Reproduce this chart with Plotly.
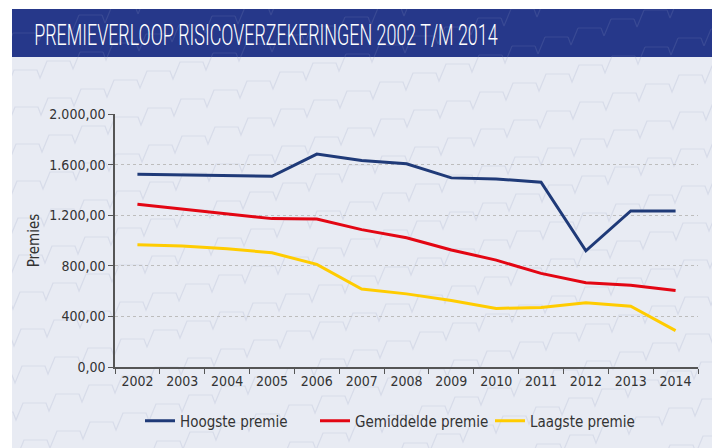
import plotly.graph_objects as go

years = ["2002", "2003", "2004", "2005", "2006", "2007", "2008", "2009", "2010", "2011", "2012", "2013", "2014"]
hoogste = [1524, 1519, 1516, 1508, 1683, 1632, 1606, 1495, 1487, 1461, 919, 1234, 1234]
gemiddelde = [1287, 1250, 1212, 1173, 1170, 1086, 1022, 925, 845, 740, 666, 647, 605]
laagste = [967, 956, 935, 903, 811, 616, 578, 526, 463, 471, 507, 481, 288]

W, H = 712, 448
L, R, T, B = 115, 14, 114, 81
PW, PH = W - L - R, H - T - B

def px(x):
    return (x - L) / PW

def py(y):
    return (H - B - y) / PH

BG = "#E8EBF3"
BANNER = "#26388A"
FONT = "DejaVu Sans Condensed, DejaVu Sans, sans-serif"
TITLE_FONT = "Roboto, DejaVu Sans, sans-serif"

fig = go.Figure()
fig.add_trace(go.Scatter(x=years, y=hoogste, mode="lines", name="Hoogste premie",
                         line=dict(color="#1F3A78", width=3)))
fig.add_trace(go.Scatter(x=years, y=gemiddelde, mode="lines", name="Gemiddelde premie",
                         line=dict(color="#E30613", width=3)))
fig.add_trace(go.Scatter(x=years, y=laagste, mode="lines", name="Laagste premie",
                         line=dict(color="#FFCC00", width=3)))

# decorative background staircase lines (pixel space)
pattern = []
y0 = -60
while y0 < H + 260:
    pts = []
    x, y = -40.0 - (y0 % 19), float(y0)
    pts.append((x, y))
    while x < W + 40:
        pts.append((x + 23, y))
        pts.append((x + 26, y + 8))
        pts.append((x + 33, y - 9))
        x, y = x + 33, y - 9
    pattern.append(pts)
    y0 += 37

def clipped_path(pts, ymin, ymax):
    parts = []
    for (ax, ay), (bx, by) in zip(pts[:-1], pts[1:]):
        dy = by - ay
        if dy == 0:
            if ymin <= ay <= ymax:
                lo, hi = 0.0, 1.0
            else:
                continue
        else:
            t1, t2 = (ymin - ay) / dy, (ymax - ay) / dy
            lo, hi = max(0.0, min(t1, t2)), min(1.0, max(t1, t2))
            if lo >= hi:
                continue
        p = (ax + lo * (bx - ax), ay + lo * dy)
        q = (ax + hi * (bx - ax), ay + hi * dy)
        parts.append(f"M {px(p[0]):.4f},{py(p[1]):.4f} L {px(q[0]):.4f},{py(q[1]):.4f}")
    return " ".join(parts)

shapes = []
shapes.append(dict(type="rect", xref="paper", yref="paper", x0=px(12), x1=px(W + 20), y0=py(9), y1=py(H + 20),
                   fillcolor=BG, line=dict(width=0), layer="below"))
for pts in pattern:
    path = "M " + " L ".join(f"{px(a):.4f},{py(b):.4f}" for a, b in pts)
    shapes.append(dict(type="path", xref="paper", yref="paper", path=path,
                       line=dict(color="rgba(150,160,195,0.2)", width=1.2), layer="below"))
shapes.append(dict(type="rect", xref="paper", yref="paper", x0=px(12), x1=px(W + 20), y0=py(9), y1=py(57),
                   fillcolor=BANNER, line=dict(width=0), layer="below"))
for pts in pattern:
    path = clipped_path(pts, 9, 57)
    if path:
        shapes.append(dict(type="path", xref="paper", yref="paper", path=path,
                           line=dict(color="rgba(255,255,255,0.09)", width=1.2), layer="below"))
shapes.append(dict(type="rect", xref="paper", yref="paper", x0=px(-20), x1=px(12), y0=py(-20), y1=py(H + 20),
                   fillcolor="white", line=dict(width=0), layer="below"))
shapes.append(dict(type="rect", xref="paper", yref="paper", x0=px(-20), x1=px(W + 20), y0=py(-20), y1=py(9),
                   fillcolor="white", line=dict(width=0), layer="below"))

fig.update_layout(
    width=W, height=H,
    margin=dict(l=L, r=R, t=T, b=B, autoexpand=False),
    paper_bgcolor=BG,
    plot_bgcolor="rgba(0,0,0,0)",
    separators=",.",
    shapes=shapes,
    font=dict(family=FONT, size=14, color="#333333"),
    showlegend=True,
    legend=dict(orientation="h", x=px(140), xanchor="left", y=py(421), yanchor="middle",
                font=dict(size=15, color="#333333"), bgcolor="rgba(0,0,0,0)",
                entrywidth=130, entrywidthmode="pixels"),
    annotations=[dict(text="PREMIEVERLOOP RISICOVERZEKERINGEN 2002 T/M 2014", xref="paper", yref="paper",
                      x=px(32), y=py(34), xanchor="left", yanchor="middle", showarrow=False,
                      font=dict(family=TITLE_FONT, size=30, color="white", weight=300))],
    xaxis=dict(type="category", showgrid=False, showline=True, linecolor="#555555", linewidth=1.5,
               ticks="outside", tickson="boundaries", ticklen=5, tickcolor="#555555",
               tickfont=dict(size=14, color="#333333"), range=[-0.5, 12.5]),
    yaxis=dict(range=[0, 2000], tickvals=[0, 400, 800, 1200, 1600, 2000], tickformat=",.2f",
               showline=True, linecolor="#555555", linewidth=1.5, ticks="outside", ticklen=5,
               tickcolor="#555555", showgrid=True, gridcolor="#BDBDBD", griddash="dot", gridwidth=1,
               zeroline=False, tickfont=dict(size=14, color="#333333"),
               title=dict(text="Premies", font=dict(size=15, color="#333333"), standoff=6)),
)

post = """
document.body.style.margin = '0';
document.body.style.background = '#E8EBF3';
var gd = document.getElementById('{plot_id}');
var t = gd.querySelector('.annotation-text');
if (t) {
  var bb = t.getBBox();
  var s = 464 / bb.width;
  var prev = t.getAttribute('transform') || '';
  t.setAttribute('transform', prev + ' translate(' + (bb.x * (1 - s)) + ',0) scale(' + s + ',1)');
}
"""

fig.write_html("out.html", post_script=post, config={"displayModeBar": False})
